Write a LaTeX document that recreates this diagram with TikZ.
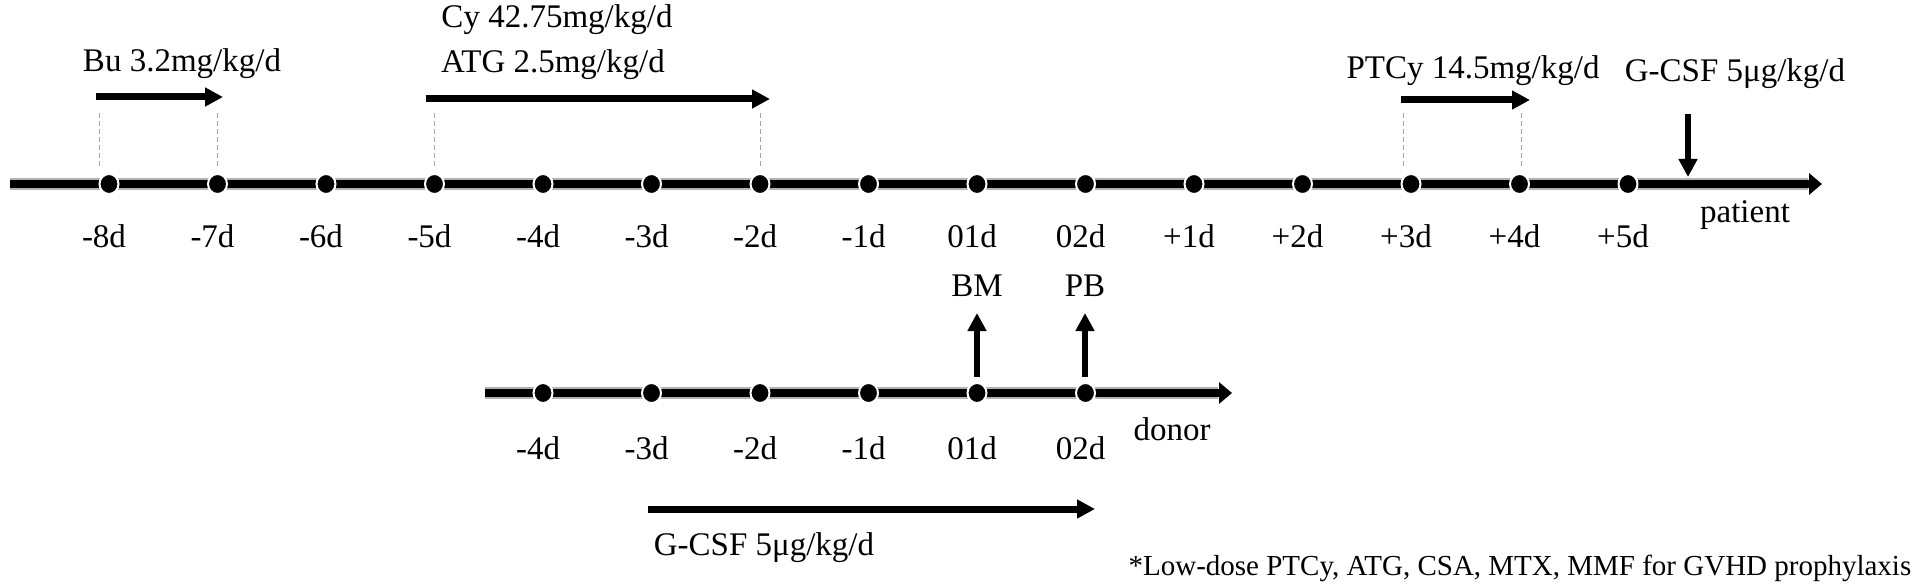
\documentclass[tikz,border=0pt]{standalone}
\usepackage{fontspec}
\setmainfont{Liberation Serif}
\usetikzlibrary{arrows.meta,shapes.geometric}
\begin{document}
\begin{tikzpicture}[x=1pt,y=-1pt,
  lbl/.style={font=\fontsize{33}{38}\selectfont, inner sep=0pt},
  foot/.style={font=\fontsize{29}{34}\selectfont, inner sep=0pt},
  dot/.style={ellipse, draw=white, fill=black, line width=2pt, minimum width=19pt, minimum height=20pt, inner sep=0pt},
  axisbg/.style={line width=11.5pt, draw=gray!60},
  axisfg/.style={line width=8.5pt, draw=black, -{Triangle[length=13pt,width=21pt]}},
  drug/.style={line width=7pt, -{Triangle[length=18pt,width=18pt]}},
  vert/.style={line width=6pt, -{Triangle[length=18pt,width=18pt]}},
  guide/.style={gray!70, line width=1pt, dash pattern=on 5pt off 3pt},
]
\useasboundingbox (0,0) rectangle (1924,588);

% patient axis
\coordinate (pstart) at (10,184);
\coordinate (pend) at (1822,184);
\draw[axisbg] (pstart) -- (1808,184);
\draw[axisfg] (pstart) -- (pend);

\foreach \i/\t in {0/-8d,1/-7d,2/-6d,3/-5d,4/-4d,5/-3d,6/-2d,7/-1d,8/01d,9/02d,10/+1d,11/+2d,12/+3d,13/+4d,14/+5d}{
  \node[dot] (p\i) at ({109+108.5*\i},184) {};
  \node[lbl] (pl\i) at ({104+108.5*\i},236) {\t};
}
\node[lbl] (patient) at (1745,215) {patient};

% donor axis
\coordinate (dstart) at (485,393);
\coordinate (dend) at (1232,393);
\draw[axisbg] (dstart) -- (1218,393);
\draw[axisfg] (dstart) -- (dend);
\foreach \i/\t in {4/-4d,5/-3d,6/-2d,7/-1d,8/01d,9/02d}{
  \node[dot] (d\i) at ({109+108.5*\i},393) {};
  \node[lbl] (dl\i) at ({104+108.5*\i},448) {\t};
}
\node[lbl] (donor) at (1172,429) {donor};

% guide lines
\foreach \i/\x in {0/99,1/217.5,3/434.5,6/760,12/1403,13/1521}{
  \coordinate (gt\i) at (\x,113);
  \coordinate (gb\i) at (\x,166);
  \draw[guide] (gt\i) -- (gb\i);
}

% drugs
\node[lbl] (bu) at (182,64) {Bu 3.2mg/kg/d};
\coordinate (bus) at (96,97);
\coordinate (bue) at (223,97);
\draw[drug] (bus) -- (bue);

\node[lbl] (cy) at (557,20) {Cy 42.75mg/kg/d};
\node[lbl] (atg) at (553,65) {ATG 2.5mg/kg/d};
\coordinate (cys) at (426,99);
\coordinate (cye) at (770,99);
\draw[drug] (cys) -- (cye);

\node[lbl] (ptcy) at (1473,71) {PTCy 14.5mg/kg/d};
\coordinate (pts) at (1401,100);
\coordinate (pte) at (1530,100);
\draw[drug] (pts) -- (pte);

\node[lbl] (gcsf) at (1735,74) {G-CSF 5μg/kg/d};
\coordinate (gs) at (1688,114);
\coordinate (ge) at (1688,177);
\draw[vert] (gs) -- (ge);

% donor harvest
\node[lbl] (bm) at (977,286) {BM};
\node[lbl] (pb) at (1085,286) {PB};
\coordinate (bms) at (977,377);
\coordinate (bme) at (977,313);
\coordinate (pbs) at (1085,377);
\coordinate (pbe) at (1085,313);
\draw[vert] (bms) -- (bme);
\draw[vert] (pbs) -- (pbe);

\coordinate (dgs) at (648,509);
\coordinate (dge) at (1095,509);
\draw[drug] (dgs) -- (dge);
\node[lbl] (dgcsf) at (764,548) {G-CSF 5μg/kg/d};

\node[foot] (note) at (1520,568) {*Low-dose PTCy, ATG, CSA, MTX, MMF for GVHD prophylaxis};
\end{tikzpicture}
\end{document}
